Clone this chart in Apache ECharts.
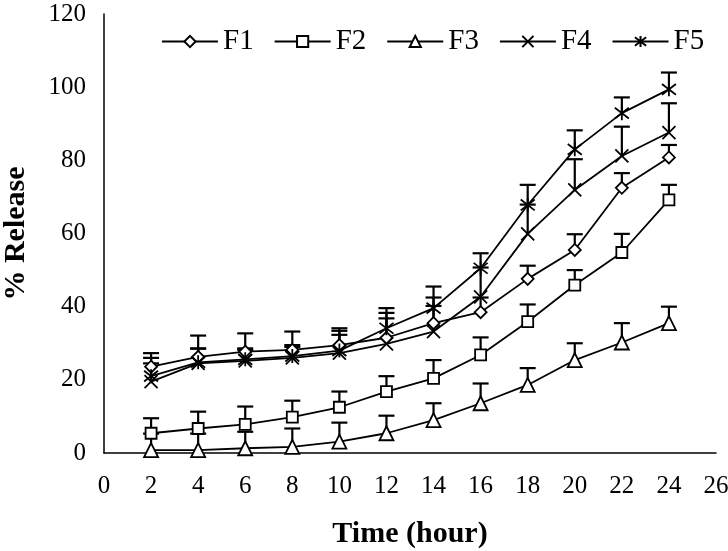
<!DOCTYPE html>
<html><head><meta charset="utf-8">
<script src="https://cdn.jsdelivr.net/npm/echarts@6/dist/echarts.min.js"></script>
<style>html,body{margin:0;padding:0;background:#fff}#c{width:728px;height:551px}</style>
</head><body><div id="c"></div>
<script>
var hours = [2,4,6,8,10,12,14,16,18,20,22,24];
var seriesNames = ['F1','F2','F3','F4','F5'];
var F1 = [23.6,26.3,27.7,28.2,29.5,31.5,35.5,38.5,47.6,55.5,72.5,80.8];
var F2 = [5.4,6.7,7.8,9.8,12.5,16.8,20.4,26.8,35.9,45.9,54.8,69.2];
var F3 = [0.8,0.8,1.3,1.7,3.1,5.4,9.0,13.6,18.6,25.4,30.2,35.5];
var F4 = [19.5,24.5,25.2,26.0,27.3,29.8,33.2,42.7,59.9,71.9,81.2,87.6];
var F5 = [21.0,24.8,25.6,26.5,28.0,34.1,39.6,50.5,67.8,83.0,92.9,99.4];
var F1err = [3.7,5.8,5.0,5.0,4.6,6.8,7.0,4.0,3.6,4.3,4.0,3.4];
var F2err = [4.1,4.6,4.9,4.5,4.3,4.2,5.0,4.8,4.7,4.1,5.1,4.1];
var F3err = [4.5,4.5,4.5,5.0,5.2,4.8,4.6,5.4,4.6,4.6,5.3,4.5];
var F4err = [5.0,4.0,3.0,3.0,5.0,7.0,7.0,8.0,8.0,8.4,8.0,8.0];
var F5err = [5.0,3.8,3.0,3.0,5.4,5.5,5.9,4.1,5.5,5.2,4.3,4.6];
var xTicks = {min:0, max:26, interval:2};
var yTicks = {min:0, max:120, interval:20};

var values = [F1,F2,F3,F4,F5];
var errs = [F1err,F2err,F3err,F4err,F5err];
var symbols = [
  'diamond',
  'rect',
  'triangle',
  'path://M0,0L10,10M10,0L0,10',
  'path://M0,0L10,10M10,0L0,10M5,-1.5L5,11.5'
];
var sizes = [12,11,14,13,14];

var font = '"Liberation Serif","Times New Roman",serif';
var series = [];
values.forEach(function(v,i){
  var ed = hours.map(function(h,j){return [h, v[j], errs[i][j]];});
  series.push({
    type:'custom', name: seriesNames[i]+' err', z:1, silent:true,
    renderItem:function(params, api){
      var x = api.value(0), y = api.value(1), e = api.value(2);
      var p0 = api.coord([x,y]), p1 = api.coord([x,y+e]);
      var hw = 8;
      return {type:'group', children:[
        {type:'line', shape:{x1:p0[0],y1:p0[1],x2:p1[0],y2:p1[1]}, style:{stroke:'#000',lineWidth:2.2}},
        {type:'line', shape:{x1:p1[0]-hw,y1:p1[1],x2:p1[0]+hw,y2:p1[1]}, style:{stroke:'#000',lineWidth:2.2}}
      ]};
    },
    data: ed
  });
});
values.forEach(function(v,i){
  series.push({
    type:'line', name: seriesNames[i], z:3,
    data: hours.map(function(h,j){return [h, v[j]];}),
    symbol: symbols[i], symbolSize: sizes[i], showAllSymbol:true,
    lineStyle:{color:'#000', width:1.8},
    itemStyle:{color:'#fff', borderColor:'#000', borderWidth:1.8},
    emphasis:{disabled:true}
  });
});

var chart = echarts.init(document.getElementById('c'), null, {renderer:'canvas'});
chart.setOption({
  animation:false,
  backgroundColor:'#fff',
  grid:{left:104, right:12, top:14, bottom:98, containLabel:false, outerBoundsMode:'none'},
  legend:{
    data: seriesNames, left:156, top:22, itemWidth:56, itemHeight:14, itemGap:20,
    textStyle:{fontFamily:font, fontSize:29, color:'#000'}
  },
  xAxis:{
    type:'value', min:xTicks.min, max:xTicks.max, interval:xTicks.interval,
    name:'Time (hour)', nameLocation:'middle', nameGap:66,
    nameTextStyle:{fontFamily:font, fontSize:30, fontWeight:'bold', color:'#000'},
    axisLine:{show:true, lineStyle:{color:'#000', width:1.5}},
    axisTick:{show:false}, splitLine:{show:false},
    axisLabel:{fontFamily:font, fontSize:25, color:'#000', margin:21}
  },
  yAxis:{
    type:'value', min:yTicks.min, max:yTicks.max, interval:yTicks.interval,
    name:'% Release', nameLocation:'middle', nameGap:73, nameRotate:90,
    nameTextStyle:{fontFamily:font, fontSize:30, fontWeight:'bold', color:'#000'},
    axisLine:{show:true, lineStyle:{color:'#000', width:1.5}},
    axisTick:{show:false}, splitLine:{show:false},
    axisLabel:{fontFamily:font, fontSize:25, color:'#000', margin:18}
  },
  series: series
});
</script></body></html>
